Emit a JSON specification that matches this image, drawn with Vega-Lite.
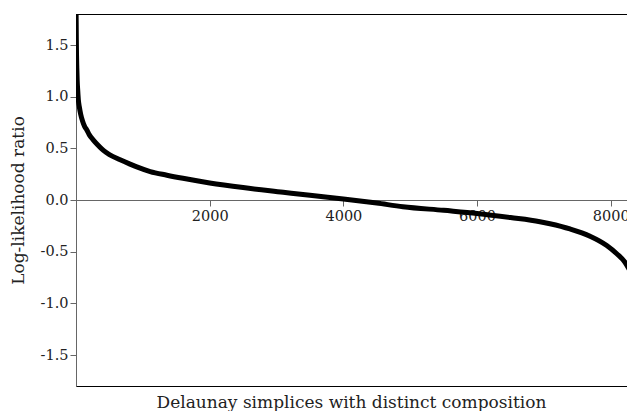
{
  "$schema": "https://vega.github.io/schema/vega-lite/v6.json",
  "width": 551,
  "height": 372,
  "autosize": "none",
  "padding": {"left": 76, "top": 14, "right": 0, "bottom": 25},
  "background": "white",
  "config": {
    "font": "DejaVu Serif",
    "view": {"stroke": "black", "strokeWidth": 1},
    "title": {"font": "DejaVu Serif", "fontSize": 17, "fontWeight": "normal", "color": "#222"},
    "axis": {"labelFont": "DejaVu Serif", "titleFont": "DejaVu Serif", "labelFontSize": 14.5, "titleFontSize": 17, "titleFontWeight": "normal", "labelColor": "#222", "titleColor": "#222", "domainColor": "#666", "tickColor": "#666", "grid": false, "tickSize": 6}
  },
  "title": {"text": "Delaunay simplices with distinct composition", "orient": "bottom", "anchor": "middle", "font": "DejaVu Serif", "fontSize": 17, "fontWeight": "normal", "offset": 9},
  "data": {"values": [
    {"x": 0, "y": 2.2}, {"x": 1, "y": 1.85}, {"x": 3, "y": 1.7}, {"x": 5, "y": 1.55}, {"x": 8, "y": 1.4},
    {"x": 12, "y": 1.28}, {"x": 18, "y": 1.15}, {"x": 25, "y": 1.07}, {"x": 35, "y": 0.97}, {"x": 50, "y": 0.9},
    {"x": 70, "y": 0.83}, {"x": 100, "y": 0.76}, {"x": 130, "y": 0.71}, {"x": 160, "y": 0.68}, {"x": 200, "y": 0.63},
    {"x": 260, "y": 0.58}, {"x": 330, "y": 0.53}, {"x": 410, "y": 0.48}, {"x": 500, "y": 0.44}, {"x": 660, "y": 0.39},
    {"x": 800, "y": 0.35}, {"x": 910, "y": 0.32}, {"x": 1110, "y": 0.275}, {"x": 1360, "y": 0.24}, {"x": 1600, "y": 0.21},
    {"x": 2000, "y": 0.165}, {"x": 2500, "y": 0.12}, {"x": 3100, "y": 0.075}, {"x": 3500, "y": 0.045}, {"x": 4000, "y": 0.01},
    {"x": 4500, "y": -0.03}, {"x": 4890, "y": -0.065}, {"x": 5500, "y": -0.1}, {"x": 6000, "y": -0.13}, {"x": 6500, "y": -0.17},
    {"x": 6940, "y": -0.21}, {"x": 7090, "y": -0.23}, {"x": 7390, "y": -0.28}, {"x": 7690, "y": -0.35}, {"x": 7940, "y": -0.44},
    {"x": 8090, "y": -0.52}, {"x": 8210, "y": -0.6}, {"x": 8300, "y": -0.7}
  ]},
  "mark": {"type": "line", "color": "black", "strokeWidth": 5, "clip": true, "interpolate": "monotone"},
  "encoding": {
    "x": {"field": "x", "type": "quantitative", "scale": {"domain": [0, 8243], "nice": false, "zero": false},
      "axis": {"title": null, "values": [2000, 4000, 6000, 8000], "format": "d", "offset": -186, "labelPadding": 3}},
    "y": {"field": "y", "type": "quantitative", "scale": {"domain": [-1.8, 1.8], "nice": false},
      "axis": {"title": "Log-likelihood ratio", "values": [-1.5, -1, -0.5, 0, 0.5, 1, 1.5], "labelExpr": "datum.value < 0 ? '-' + format(-datum.value, '.1f') : format(datum.value, '.1f')", "labelPadding": 2, "titlePadding": 13}}
  }
}
